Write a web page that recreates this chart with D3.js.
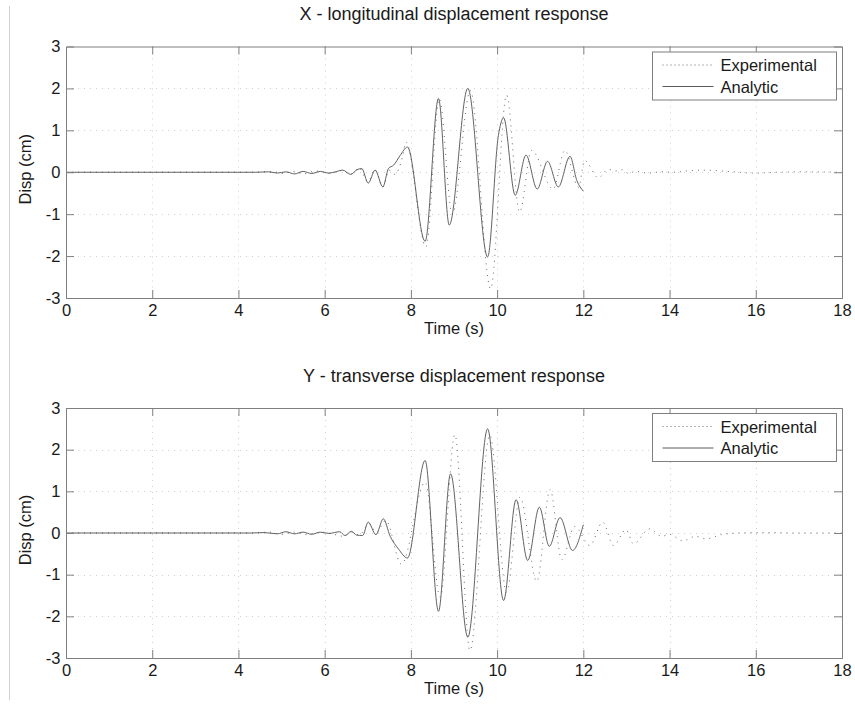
<!DOCTYPE html>
<html>
<head>
<meta charset="utf-8">
<script src="https://cdn.jsdelivr.net/npm/d3@7"></script>
<style>
  html, body { margin: 0; padding: 0; background: #fff; }
  svg { display: block; font-family: "Liberation Sans", Arial, sans-serif; }
</style>
</head>
<body>
<svg id="chart" width="855" height="706"></svg>
<script>
// ---------- DATA (time s, displacement cm) ----------
const titles = ["X - longitudinal displacement response", "Y - transverse displacement response"];
const xLabel = "Time (s)";
const yLabel = "Disp (cm)";
const legendLabels = ["Experimental", "Analytic"];
const xTicks = [0, 2, 4, 6, 8, 10, 12, 14, 16, 18];
const yTicks = [-3, -2, -1, 0, 1, 2, 3];

const xAnalytic = [[0,0],[4.4,0],[4.7,0.01],[4.9,-0.02],[5.1,0.01],[5.3,-0.04],[5.5,0.02],[5.7,-0.03],[5.9,0.02],[6.1,-0.02],[6.25,0.01],[6.42,0.05],[6.6,-0.05],[6.75,0.06],[6.86,0.09],[7.01,-0.26],[7.17,0.05],[7.35,-0.35],[7.48,0.09],[7.6,0.17],[7.75,0.4],[7.92,0.6],[8.33,-1.65],[8.64,1.76],[8.89,-1.26],[9.32,2.0],[9.78,-2.02],[10.03,0.88],[10.15,1.3],[10.42,-0.55],[10.67,0.41],[10.93,-0.4],[11.17,0.26],[11.42,-0.35],[11.69,0.38],[11.85,-0.2],[12.0,-0.45]];

const xExperimental = [[0,0],[4.4,0],[4.8,0.02],[5.0,-0.03],[5.3,0.02],[5.5,-0.04],[5.8,0.03],[6.1,-0.03],[6.4,0.04],[6.6,-0.05],[6.8,0.1],[7.0,-0.22],[7.17,0.06],[7.35,-0.35],[7.5,0.05],[7.63,-0.05],[7.8,0.34],[7.89,0.72],[8.35,-1.78],[8.66,1.75],[8.96,-1.0],[9.38,1.95],[9.85,-2.78],[10.22,1.84],[10.52,-0.95],[10.8,0.52],[11.3,-0.4],[11.57,0.52],[11.89,-0.36],[12.03,0.28],[12.35,-0.13],[12.58,0.07],[12.74,0.03],[12.9,0.06],[13.05,-0.03],[13.2,0.02],[13.5,-0.02],[13.8,0.01],[14.1,0.0],[14.4,0.03],[14.8,0.05],[15.2,0.03],[15.6,0.0],[16.0,-0.02],[16.5,0],[17,0.01],[18,0]];

const yAnalytic = [[0,0],[4.3,0],[4.6,0.01],[4.9,-0.02],[5.1,0.03],[5.3,-0.02],[5.5,0.02],[5.7,-0.03],[5.9,0.02],[6.1,-0.01],[6.35,0.03],[6.47,-0.06],[6.62,0.04],[6.74,-0.05],[6.88,-0.06],[7.01,0.26],[7.19,-0.04],[7.36,0.34],[7.52,-0.08],[7.71,-0.38],[7.92,-0.6],[8.33,1.74],[8.64,-1.88],[8.92,1.42],[9.32,-2.5],[9.78,2.5],[10.15,-1.62],[10.44,0.8],[10.71,-0.66],[10.98,0.62],[11.21,-0.32],[11.46,0.37],[11.75,-0.42],[12.0,0.2]];

const yExperimental = [[0,0],[4.3,0],[4.7,0.02],[5.0,-0.03],[5.3,0.02],[5.6,-0.04],[5.9,0.02],[6.2,-0.03],[6.45,-0.08],[6.62,0.02],[6.8,-0.05],[7.03,0.22],[7.2,0.02],[7.42,0.3],[7.78,-0.75],[8.33,1.22],[8.68,-1.54],[9.02,2.36],[9.37,-2.82],[9.83,2.35],[10.22,-1.42],[10.53,0.86],[10.92,-1.16],[11.23,1.04],[11.5,-0.64],[11.8,0.16],[12.15,-0.3],[12.45,0.26],[12.7,-0.3],[12.99,0.08],[13.16,-0.26],[13.54,0.1],[13.82,-0.08],[14.0,-0.03],[14.31,-0.19],[14.6,-0.08],[14.85,-0.14],[15.2,-0.04],[15.6,0],[16.2,0.01],[17,0],[18,0]];

const panels = [
  { title: titles[0], top: 46.5, bottom: 298, exp: xExperimental, ana: xAnalytic },
  { title: titles[1], top: 408, bottom: 658, exp: yExperimental, ana: yAnalytic }
];

// ---------- DRAW ----------
const svg = d3.select("#chart");
const left = 66, right = 842;
const textColor = "#1a1a1a";
const axisColor = "#7f7f7f";
const gridColor = "#d0d0d0";
const fmt = d => String(d);

// figure left border
svg.append("line").attr("x1", 9.5).attr("x2", 9.5).attr("y1", 6).attr("y2", 700)
  .attr("stroke", "#d0d0d0").attr("stroke-width", 1);

panels.forEach(p => {
  const x = d3.scaleLinear().domain([0, 18]).range([left, right]);
  const y = d3.scaleLinear().domain([-3, 3]).range([p.bottom, p.top]);
  const g = svg.append("g");

  // grid
  g.selectAll(".gx").data(xTicks.slice(1, -1)).join("line")
    .attr("x1", d => Math.round(x(d)) + 0.5).attr("x2", d => Math.round(x(d)) + 0.5)
    .attr("y1", p.top).attr("y2", p.bottom)
    .attr("stroke", gridColor).attr("stroke-width", 1).attr("stroke-dasharray", "1,5");
  g.selectAll(".gy").data(yTicks.slice(1, -1)).join("line")
    .attr("y1", d => Math.round(y(d)) + 0.5).attr("y2", d => Math.round(y(d)) + 0.5)
    .attr("x1", left).attr("x2", right)
    .attr("stroke", gridColor).attr("stroke-width", 1).attr("stroke-dasharray", "1,5");

  // data lines
  const line = d3.line().x(d => x(d[0])).y(d => y(d[1])).curve(d3.curveMonotoneX);
  g.append("path").datum(p.exp).attr("d", line)
    .attr("fill", "none").attr("stroke", "#6a6a6a").attr("stroke-width", 1)
    .attr("stroke-dasharray", "1,5");
  g.append("path").datum(p.ana).attr("d", line)
    .attr("fill", "none").attr("stroke", "#5a5a5a").attr("stroke-width", 0.95);

  // axes (inside ticks, mirrored)
  const tl = 8;
  const axB = d3.axisBottom(x).tickValues(xTicks).tickSize(-tl).tickPadding(6).tickFormat(fmt);
  const axT = d3.axisTop(x).tickValues(xTicks).tickSize(-tl).tickFormat("");
  const axL = d3.axisLeft(y).tickValues(yTicks).tickSize(-tl).tickPadding(5.5).tickFormat(fmt);
  const axR = d3.axisRight(y).tickValues(yTicks).tickSize(-tl).tickFormat("");
  const gb = g.append("g").attr("transform", `translate(0,${p.bottom})`).call(axB);
  const gt = g.append("g").attr("transform", `translate(0,${p.top})`).call(axT);
  const gl = g.append("g").attr("transform", `translate(${left},0)`).call(axL);
  const gr = g.append("g").attr("transform", `translate(${right},0)`).call(axR);
  [gb, gt, gl, gr].forEach(a => {
    a.select(".domain").attr("stroke", axisColor);
    a.selectAll(".tick line").attr("stroke", axisColor);
    a.selectAll("text").attr("fill", textColor).attr("font-size", 16.5)
      .attr("font-family", "Liberation Sans, Arial, sans-serif");
  });
  [gt, gb].forEach(a => a.selectAll(".tick").filter((d, i) => i === 0 || i === xTicks.length - 1).select("line").remove());
  [gl, gr].forEach(a => a.selectAll(".tick").filter((d, i) => i === 0 || i === yTicks.length - 1).select("line").remove());

  // labels
  g.append("text").attr("x", (left + right) / 2).attr("y", p.top - 26.5)
    .attr("text-anchor", "middle").attr("font-size", 18).attr("fill", textColor).text(p.title);
  g.append("text").attr("x", (left + right) / 2).attr("y", p.bottom + 36)
    .attr("text-anchor", "middle").attr("font-size", 16.5).attr("fill", textColor).text(xLabel);
  g.append("text").attr("transform", `translate(31,${(p.top + p.bottom) / 2 - 3}) rotate(-90)`)
    .attr("text-anchor", "middle").attr("font-size", 16.5).attr("fill", textColor).text(yLabel);

  // legend
  const lx = 652.5, ly = p.top + 5.5, lw = 184, lh = 48;
  const lg = g.append("g");
  lg.append("rect").attr("x", lx).attr("y", ly).attr("width", lw).attr("height", lh)
    .attr("fill", "#fff").attr("stroke", axisColor).attr("stroke-width", 1);
  const items = [{ label: legendLabels[0], dash: "1,3", col: "#6a6a6a" }, { label: legendLabels[1], dash: null, col: "#5a5a5a" }];
  items.forEach((it, i) => {
    const yy = ly + 13 + i * 21.5;
    lg.append("line").attr("x1", lx + 10).attr("x2", lx + 61).attr("y1", yy).attr("y2", yy)
      .attr("stroke", it.col).attr("stroke-width", 1).attr("stroke-dasharray", it.dash);
    lg.append("text").attr("x", lx + 68).attr("y", yy + 6).attr("font-size", 16.5)
      .attr("fill", textColor).text(it.label);
  });
});
</script>
</body>
</html>
